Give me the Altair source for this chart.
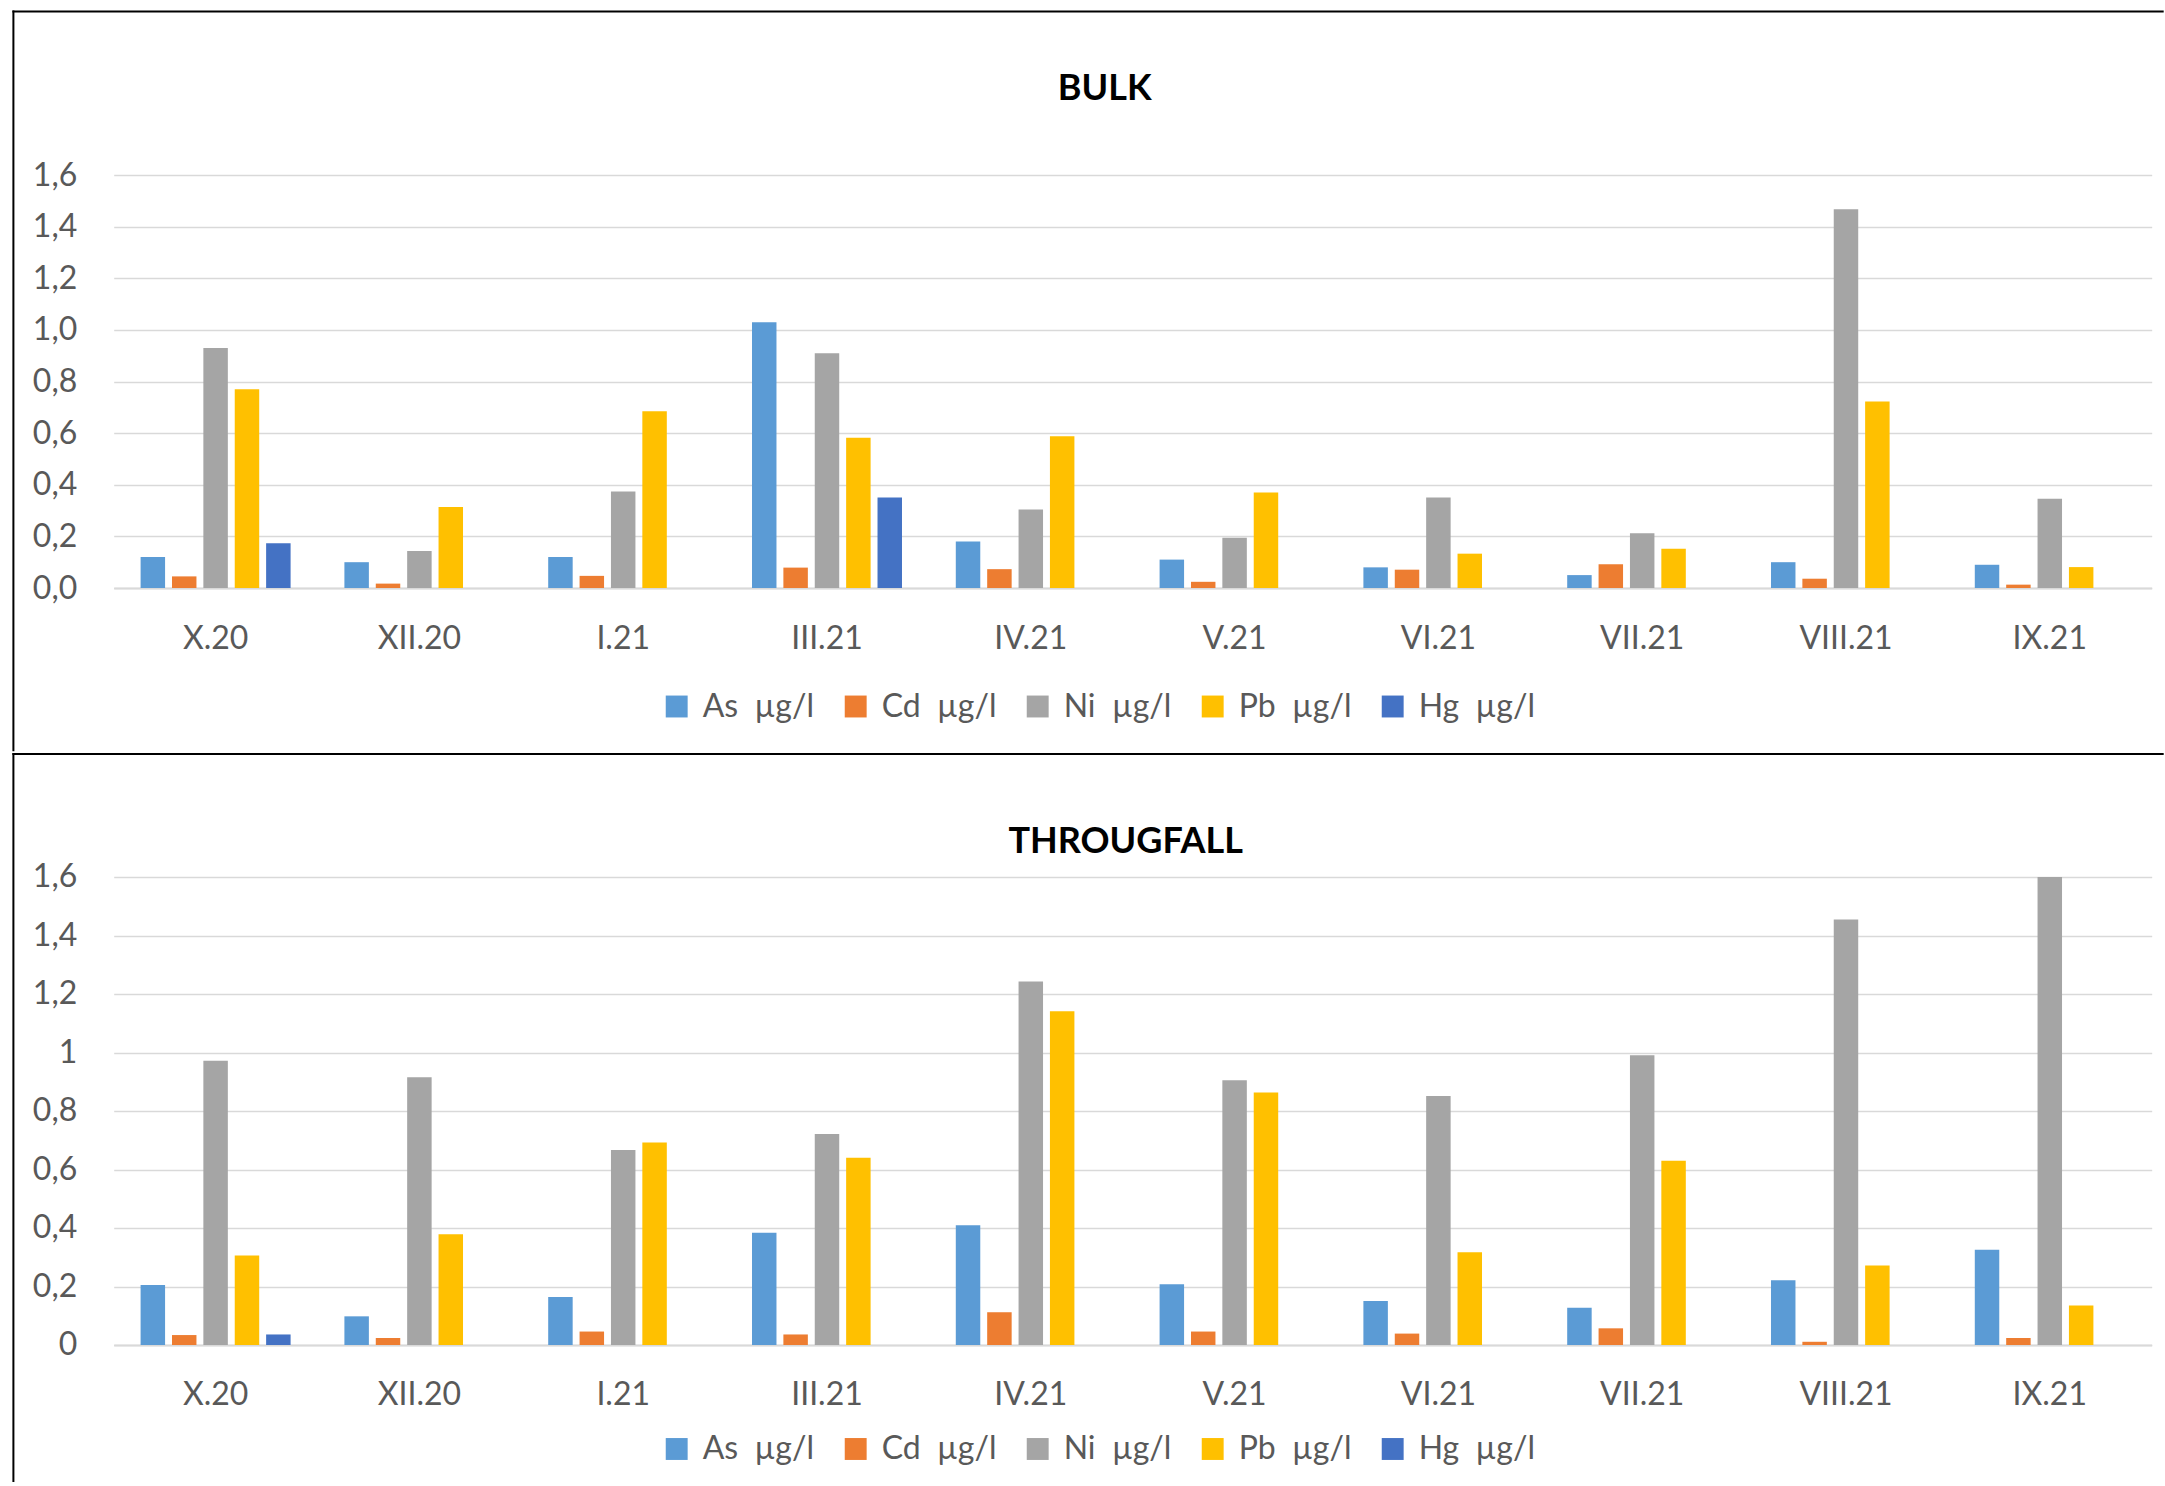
import altair as alt
import pandas as pd

# Sampling campaigns (month.year)
months = ["X.20", "XII.20", "I.21", "III.21", "IV.21", "V.21", "VI.21", "VII.21", "VIII.21", "IX.21"]

# Series names (non-breaking spaces keep the double gap before the unit)
metals = ["As\u00a0\u00a0µg/l", "Cd\u00a0\u00a0µg/l", "Ni\u00a0\u00a0µg/l", "Pb\u00a0\u00a0µg/l", "Hg\u00a0\u00a0µg/l"]
metal_colors = ["#5B9BD5", "#ED7D31", "#A5A5A5", "#FFC000", "#4472C4"]

# BULK deposition, µg/l
bulk_as = [0.12, 0.10, 0.12, 1.03, 0.18, 0.11, 0.08, 0.05, 0.10, 0.09]
bulk_cd = [0.045, 0.017, 0.047, 0.079, 0.073, 0.024, 0.071, 0.092, 0.036, 0.013]
bulk_ni = [0.93, 0.143, 0.374, 0.909, 0.304, 0.195, 0.351, 0.212, 1.467, 0.346]
bulk_pb = [0.77, 0.314, 0.685, 0.582, 0.588, 0.37, 0.133, 0.152, 0.723, 0.081]
bulk_hg = [0.173, None, None, 0.351, None, None, None, None, None, None]

# THROUGFALL deposition, µg/l
tf_as = [0.205, 0.098, 0.164, 0.384, 0.409, 0.208, 0.150, 0.127, 0.221, 0.326]
tf_cd = [0.034, 0.024, 0.046, 0.036, 0.112, 0.046, 0.039, 0.057, 0.011, 0.024]
tf_ni = [0.972, 0.915, 0.667, 0.721, 1.243, 0.905, 0.851, 0.991, 1.455, 1.60]
tf_pb = [0.306, 0.379, 0.692, 0.640, 1.141, 0.863, 0.317, 0.630, 0.272, 0.135]
tf_hg = [0.036, None, None, None, None, None, None, None, None, None]

y_ticks = [0, 0.2, 0.4, 0.6, 0.8, 1.0, 1.2, 1.4, 1.6]

FONT = "Lato"
GREY = "#595959"
GRID = "#D9D9D9"
PLOT_W = 2038


def long_table(series):
    rows = []
    for metal, values in zip(metals, series):
        for month, v in zip(months, values):
            if v is not None:
                rows.append({"month": month, "metal": metal, "value": v})
    return pd.DataFrame(rows)


def panel(title, series, height, label_expr, title_x, title_y, legend_y, frame_top, frame_bottom):
    bars = alt.Chart(long_table(series)).mark_bar().encode(
        x=alt.X(
            "month:N",
            scale=alt.Scale(domain=months, paddingInner=0.264, paddingOuter=0.132),
            axis=alt.Axis(
                title=None, labelAngle=0, ticks=False, tickSize=0, labelPadding=35,
                domainColor=GRID, domainWidth=2, grid=False,
                labelFont=FONT, labelFontSize=32, labelColor=GREY,
            ),
        ),
        xOffset=alt.XOffset(
            "metal:N", scale=alt.Scale(domain=metals, paddingInner=0.22, paddingOuter=0)
        ),
        y=alt.Y(
            "value:Q",
            scale=alt.Scale(domain=[0, 1.6], nice=False, zero=True),
            axis=alt.Axis(
                values=y_ticks, title=None, domain=False, ticks=False, tickSize=0,
                labelPadding=37, gridColor=GRID, gridWidth=1.5, labelExpr=label_expr,
                labelFont=FONT, labelFontSize=32, labelColor=GREY,
            ),
        ),
        color=alt.Color(
            "metal:N",
            scale=alt.Scale(domain=metals, range=metal_colors),
            legend=alt.Legend(
                title=None, orient="none", legendX=547, legendY=legend_y,
                direction="horizontal", columns=5, symbolType="square", symbolSize=480,
                symbolStrokeWidth=0, labelFont=FONT, labelFontSize=32, labelColor=GREY,
                labelOffset=10, columnPadding=25, padding=0, labelLimit=400,
            ),
        ),
    )

    heading = alt.Chart(pd.DataFrame({"label": [title]})).mark_text(
        font=FONT, fontSize=36, fontWeight="bold", color="black",
        align="center", baseline="alphabetic",
    ).encode(text="label:N", x=alt.value(title_x), y=alt.value(title_y))

    frame = pd.DataFrame({"k": [0]})
    top_line = alt.Chart(frame).mark_rule(color="black", strokeWidth=2, strokeCap="square").encode(
        x=alt.value(-100.3), x2=alt.value(2049), y=alt.value(frame_top)
    )
    left_line = alt.Chart(frame).mark_rule(color="black", strokeWidth=2, strokeCap="square").encode(
        x=alt.value(-100.3), y=alt.value(frame_top), y2=alt.value(frame_bottom)
    )

    return alt.layer(bars, heading, top_line, left_line).properties(width=PLOT_W, height=height)


bulk = panel(
    "BULK", [bulk_as, bulk_cd, bulk_ni, bulk_pb, bulk_hg], 413,
    "replace(format(datum.value, '.1f'), '.', ',')",
    991, -75.5, 515.5, -163.5, 575.2,
)
througfall = panel(
    "THROUGFALL", [tf_as, tf_cd, tf_ni, tf_pb, tf_hg], 468,
    "replace(format(datum.value, '~g'), '.', ',')",
    1012, -23.6, 556, -122.9, 604,
)

chart = (
    alt.vconcat(bulk, througfall, spacing=0)
    .resolve_legend(color="independent")
    .resolve_scale(y="independent")
    .properties(padding={"left": 11.7, "top": 10, "right": 0, "bottom": 0}, background="white")
    .configure_view(stroke=None)
)

chart.save("out.html", embed_options={"renderer": "svg", "actions": False})
